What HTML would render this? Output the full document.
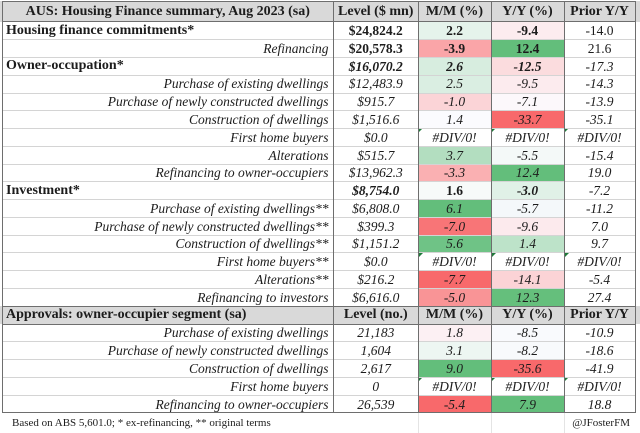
<!DOCTYPE html>
<html><head><meta charset="utf-8">
<style>
html,body{margin:0;padding:0;background:#fff;}
#w{position:relative;width:640px;height:433px;overflow:hidden;background:#fff;font-family:"Liberation Serif","DejaVu Serif",serif;color:#1c1c1c;}
.r{position:absolute;left:0;width:640px;height:17.78px;}
.c{position:absolute;top:0;height:100%;display:flex;align-items:center;justify-content:center;box-sizing:border-box;font-size:13.5px;white-space:nowrap;line-height:1;padding-top:1px;}
.c1{left:2px;width:331.5px;justify-content:flex-end;padding-right:5px;font-style:italic;}
.c1.h{justify-content:flex-start;padding-left:4px;font-weight:bold;font-style:normal;font-size:14px;}
.c2{left:333.5px;width:84.5px;}
.c3{left:418px;width:73px;}
.c4{left:491px;width:73px;}
.c5{left:564px;width:71px;}
.i{font-style:italic;}
.b{font-weight:bold;}
.hdr{background:#d9d9d9;}
.hdr .c{font-weight:bold;font-size:14px;font-style:normal;}
.hl{position:absolute;left:2px;width:633px;height:1px;background:#d4d4d4;}
.hd{position:absolute;left:2px;width:634px;height:1px;background:#6e6e6e;}
.vl{position:absolute;top:1px;width:1px;height:412px;background:#6e6e6e;}
.tri{position:absolute;left:0;top:0;width:0;height:0;border-top:5px solid #1f7a3a;border-right:5px solid transparent;}
.ft{position:absolute;font-size:11px;top:416px;line-height:14px;}
.fg{position:absolute;width:1px;background:#e4e4e4;top:413px;height:20px;}
</style></head><body>
<div id="w">

<div class="r hdr" style="top:1px;height:20.5px;">
  <div class="c c1" style="justify-content:center;padding-right:0;">AUS: Housing Finance summary, Aug 2023 (sa)</div>
  <div class="c c2">Level ($ mn)</div>
  <div class="c c3">M/M (%)</div>
  <div class="c c4">Y/Y (%)</div>
  <div class="c c5">Prior Y/Y</div>
</div>

<div class="r" style="top:21.5px;">
  <div class="c c1 h">Housing finance commitments*</div>
  <div class="c c2 b">$24,824.2</div>
  <div class="c c3 b" style="background:#e5f3eb">2.2</div>
  <div class="c c4 b" style="background:#fcecef">-9.4</div>
  <div class="c c5">-14.0</div>
</div>
<div class="r" style="top:39.28px;">
  <div class="c c1">Refinancing</div>
  <div class="c c2 b">$20,578.3</div>
  <div class="c c3 b" style="background:#faa5a8">-3.9</div>
  <div class="c c4 b" style="background:#63be7b">12.4</div>
  <div class="c c5">21.6</div>
</div>
<div class="r" style="top:57.06px;">
  <div class="c c1 h">Owner-occupation*</div>
  <div class="c c2 b i">$16,070.2</div>
  <div class="c c3 b i" style="background:#d7eddf">2.6</div>
  <div class="c c4 b i" style="background:#fbdcde">-12.5</div>
  <div class="c c5 i">-17.3</div>
</div>
<div class="r" style="top:74.84px;">
  <div class="c c1">Purchase of existing dwellings</div>
  <div class="c c2 i">$12,483.9</div>
  <div class="c c3 i" style="background:#daeee2">2.5</div>
  <div class="c c4 i" style="background:#fcebee">-9.5</div>
  <div class="c c5 i">-14.3</div>
</div>
<div class="r" style="top:92.62px;">
  <div class="c c1">Purchase of newly constructed dwellings</div>
  <div class="c c2 i">$915.7</div>
  <div class="c c3 i" style="background:#fbd4d7">-1.0</div>
  <div class="c c4 i" style="background:#fcf8fb">-7.1</div>
  <div class="c c5 i">-13.9</div>
</div>
<div class="r" style="top:110.4px;">
  <div class="c c1">Construction of dwellings</div>
  <div class="c c2 i">$1,516.6</div>
  <div class="c c3 i" style="background:#fbfbfe">1.4</div>
  <div class="c c4 i" style="background:#f8696b">-33.7</div>
  <div class="c c5 i">-35.1</div>
</div>
<div class="r" style="top:128.18px;">
  <div class="c c1">First home buyers</div>
  <div class="c c2 i">$0.0</div>
  <div class="c c3 i"><span class="tri"></span>#DIV/0!</div>
  <div class="c c4 i"><span class="tri"></span>#DIV/0!</div>
  <div class="c c5 i"><span class="tri"></span>#DIV/0!</div>
</div>
<div class="r" style="top:145.96px;">
  <div class="c c1">Alterations</div>
  <div class="c c2 i">$515.7</div>
  <div class="c c3 i" style="background:#b3dec0">3.7</div>
  <div class="c c4 i" style="background:#f4f9f8">-5.5</div>
  <div class="c c5 i">-15.4</div>
</div>
<div class="r" style="top:163.74px;">
  <div class="c c1">Refinancing to owner-occupiers</div>
  <div class="c c2 i">$13,962.3</div>
  <div class="c c3 i" style="background:#fab0b2">-3.3</div>
  <div class="c c4 i" style="background:#63be7b">12.4</div>
  <div class="c c5 i">19.0</div>
</div>
<div class="r" style="top:181.52px;">
  <div class="c c1 h">Investment*</div>
  <div class="c c2 b i">$8,754.0</div>
  <div class="c c3 b" style="background:#f7faf9">1.6</div>
  <div class="c c4 b i" style="background:#e0f1e7">-3.0</div>
  <div class="c c5 i">-7.2</div>
</div>
<div class="r" style="top:199.3px;">
  <div class="c c1">Purchase of existing dwellings**</div>
  <div class="c c2 i">$6,808.0</div>
  <div class="c c3 i" style="background:#63be7b">6.1</div>
  <div class="c c4 i" style="background:#f4f8fa">-5.7</div>
  <div class="c c5 i">-11.2</div>
</div>
<div class="r" style="top:217.08px;">
  <div class="c c1">Purchase of newly constructed dwellings**</div>
  <div class="c c2 i">$399.3</div>
  <div class="c c3 i" style="background:#f87577">-7.0</div>
  <div class="c c4 i" style="background:#fceaed">-9.6</div>
  <div class="c c5 i">7.0</div>
</div>
<div class="r" style="top:234.86px;">
  <div class="c c1">Construction of dwellings**</div>
  <div class="c c2 i">$1,151.2</div>
  <div class="c c3 i" style="background:#6fc386">5.6</div>
  <div class="c c4 i" style="background:#bde3c9">1.4</div>
  <div class="c c5 i">9.7</div>
</div>
<div class="r" style="top:252.64px;">
  <div class="c c1">First home buyers**</div>
  <div class="c c2 i">$0.0</div>
  <div class="c c3 i"><span class="tri"></span>#DIV/0!</div>
  <div class="c c4 i"><span class="tri"></span>#DIV/0!</div>
  <div class="c c5 i"><span class="tri"></span>#DIV/0!</div>
</div>
<div class="r" style="top:270.42px;">
  <div class="c c1">Alterations**</div>
  <div class="c c2 i">$216.2</div>
  <div class="c c3 i" style="background:#f8696b">-7.7</div>
  <div class="c c4 i" style="background:#fbd3d6">-14.1</div>
  <div class="c c5 i">-5.4</div>
</div>
<div class="r" style="top:288.2px;">
  <div class="c c1">Refinancing to investors</div>
  <div class="c c2 i">$6,616.0</div>
  <div class="c c3 i" style="background:#f99496">-5.0</div>
  <div class="c c4 i" style="background:#65bf7c">12.3</div>
  <div class="c c5 i">27.4</div>
</div>

<div class="r hdr" style="top:305.98px;">
  <div class="c c1 h">Approvals: owner-occupier segment (sa)</div>
  <div class="c c2">Level (no.)</div>
  <div class="c c3">M/M (%)</div>
  <div class="c c4">Y/Y (%)</div>
  <div class="c c5">Prior Y/Y</div>
</div>

<div class="r" style="top:323.76px;">
  <div class="c c1">Purchase of existing dwellings</div>
  <div class="c c2 i">21,183</div>
  <div class="c c3 i" style="background:#fcf0f3">1.8</div>
  <div class="c c4 i" style="background:#f9fafd">-8.5</div>
  <div class="c c5 i">-10.9</div>
</div>
<div class="r" style="top:341.54px;">
  <div class="c c1">Purchase of newly constructed dwellings</div>
  <div class="c c2 i">1,604</div>
  <div class="c c3 i" style="background:#edf6f2">3.1</div>
  <div class="c c4 i" style="background:#f8fafc">-8.2</div>
  <div class="c c5 i">-18.6</div>
</div>
<div class="r" style="top:359.32px;">
  <div class="c c1">Construction of dwellings</div>
  <div class="c c2 i">2,617</div>
  <div class="c c3 i" style="background:#63be7b">9.0</div>
  <div class="c c4 i" style="background:#f8696b">-35.6</div>
  <div class="c c5 i">-41.9</div>
</div>
<div class="r" style="top:377.1px;">
  <div class="c c1">First home buyers</div>
  <div class="c c2 i">0</div>
  <div class="c c3 i"><span class="tri"></span>#DIV/0!</div>
  <div class="c c4 i"><span class="tri"></span>#DIV/0!</div>
  <div class="c c5 i"><span class="tri"></span>#DIV/0!</div>
</div>
<div class="r" style="top:394.88px;">
  <div class="c c1">Refinancing to owner-occupiers</div>
  <div class="c c2 i">26,539</div>
  <div class="c c3 i" style="background:#f8696b">-5.4</div>
  <div class="c c4 i" style="background:#63be7b">7.9</div>
  <div class="c c5 i">18.8</div>
</div>

<div class="hl" style="top:39px"></div>
<div class="hl" style="top:57px"></div>
<div class="hl" style="top:74.5px"></div>
<div class="hl" style="top:92.5px"></div>
<div class="hl" style="top:110px"></div>
<div class="hl" style="top:128px"></div>
<div class="hl" style="top:145.5px"></div>
<div class="hl" style="top:163.5px"></div>
<div class="hl" style="top:181px"></div>
<div class="hl" style="top:199px"></div>
<div class="hl" style="top:216.5px"></div>
<div class="hl" style="top:234.5px"></div>
<div class="hl" style="top:252px"></div>
<div class="hl" style="top:270px"></div>
<div class="hl" style="top:288px"></div>
<div class="hl" style="top:341px"></div>
<div class="hl" style="top:359px"></div>
<div class="hl" style="top:377px"></div>
<div class="hl" style="top:394.5px"></div>

<div class="hd" style="top:1px"></div>
<div class="hd" style="top:21px"></div>
<div class="hd" style="top:305.5px"></div>
<div class="hd" style="top:323.5px"></div>
<div class="hd" style="top:412px"></div>

<div class="vl" style="left:2px"></div>
<div class="vl" style="left:333px"></div>
<div class="vl" style="left:418px"></div>
<div class="vl" style="left:490.5px"></div>
<div class="vl" style="left:563.5px"></div>
<div class="vl" style="left:635px"></div>

<div class="fg" style="left:418px"></div>
<div class="fg" style="left:491px"></div>
<div class="fg" style="left:564px"></div>

<div class="ft" style="left:12px;">Based on ABS 5,601.0; * ex-refinancing, ** original terms</div>
<div class="ft" style="right:10px;">@JFosterFM</div>

</div>
</body></html>
